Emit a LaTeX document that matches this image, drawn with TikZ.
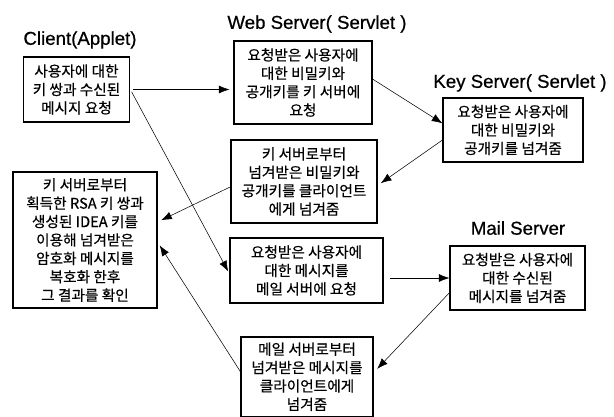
\documentclass[tikz,border=0pt]{standalone}
\usepackage{fontspec}
\setmainfont{Noto Sans CJK KR}
\newfontfamily\krfont[FakeBold=0.5]{Noto Sans CJK KR}
\newfontfamily\titlefont[FakeBold=0.6]{Liberation Sans}
\usetikzlibrary{arrows.meta}
\begin{document}
\begin{tikzpicture}[x=0.75pt,y=-0.75pt,>={Latex[length=8pt,width=6pt]},
  box/.style={draw,line width=0.8pt,align=center,inner sep=2pt,font=\krfont\fontsize{11}{13.8}\selectfont},
  head/.style={font=\titlefont\fontsize{14}{16}\selectfont}]
\useasboundingbox (0,0) rectangle (614,417);
\node[head](clienthead) at (80,40) {Client(Applet)};
\node[head](webhead) at (317,24) {Web Server( Servlet )};
\node[head](keyhead) at (520,83) {Key Server( Servlet )};
\node[head](mailhead) at (518,228) {Mail Server};
\node[box,minimum width=80pt,minimum height=48.75pt](client) at (76.5,89.5) {사용자에 대한\\키 쌍과 수신된\\메시지 요청};
\node[box,minimum width=103.5pt,minimum height=62.25pt](web) at (303,82.5) {요청받은 사용자에\\대한 비밀키와\\공개키를 키 서버에\\요청};
\node[box,minimum width=105pt,minimum height=48pt](key) at (513,130) {요청받은 사용자에\\대한 비밀키와\\공개키를 넘겨줌};
\node[box,minimum width=109.5pt,minimum height=62.25pt](keyrelay) at (304,181.5) {키 서버로부터\\넘겨받은 비밀키와\\공개키를 클라이언트\\에게 넘겨줌};
\node[box,minimum width=108pt,minimum height=102pt](result) at (85,240) {키 서버로부터\\획득한 RSA 키 쌍과\\생성된 IDEA 키를\\이용해 넘겨받은\\암호화 메시지를\\복호화 한후\\그 결과를 확인};
\node[box,minimum width=114.75pt,minimum height=48.75pt](mailreq) at (306.5,270.5) {요청받은 사용자에\\대한 메시지를\\메일 서버에 요청};
\node[box,minimum width=101.25pt,minimum height=48pt](mail) at (517.5,278) {요청받은 사용자에\\대한 수신된\\메시지를 넘겨줌};
\node[box,minimum width=99pt,minimum height=59.6pt](mailrelay) at (307,376.75) {메일 서버로부터\\넘겨받은 메시지를\\클라이언트에게\\넘겨줌};
\draw[->,shorten <=2pt,shorten >=3pt](client.east)--(client.east -| web.west);
\draw[->,shorten <=2pt,shorten >=2pt](client.east)--([yshift=-2.5pt]mailreq.west);
\draw[->]([yshift=2.6pt]web.east)--([yshift=5pt]key.west);
\draw[->,shorten >=3pt]([yshift=-7.5pt]key.west)--([yshift=-3pt]keyrelay.east);
\draw[->,shorten >=3pt]([yshift=-4pt]keyrelay.west)--([yshift=13.5pt]result.east);
\draw[->,shorten <=5pt](mail.west -| mailreq.east)--(mail.west);
\draw[->,shorten >=4pt]([yshift=-11pt]mail.west)--([yshift=3pt]mailrelay.east);
\draw[->,shorten >=3pt]([yshift=3.75pt]mailrelay.west)--([yshift=-1.5pt]result.east);
\end{tikzpicture}
\end{document}
